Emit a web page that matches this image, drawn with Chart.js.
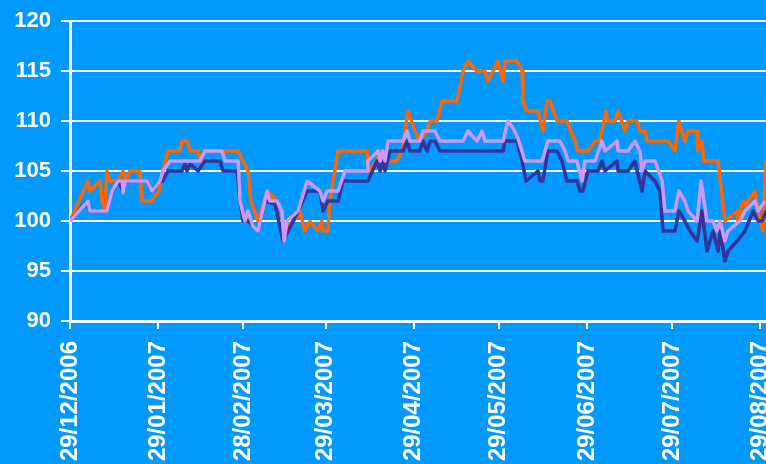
<!DOCTYPE html>
<html lang="en">

<head>
    <meta charset="UTF-8">
    <title>Index chart 29/12/2006 - 29/08/2007</title>
    <script src="https://cdn.jsdelivr.net/npm/chart.js"></script>
    <style>
        * {
            margin: 0;
            padding: 0;
            box-sizing: border-box;
        }

        body {
            background: #0099ff;
            width: 766px;
            height: 464px;
            overflow: hidden;
        }

        canvas {
            position: absolute;
            left: 0;
            top: 0;
        }
    </style>
</head>

<body>

    <canvas id="indexChart" width="800" height="464"></canvas>

    <script>
        // x positions are days counted from 29/12/2006
        const tickDays = [0, 31, 61, 90, 121, 151, 182, 212, 243];
        const tickLabels = ['29/12/2006', '29/01/2007', '28/02/2007', '29/03/2007', '29/04/2007',
            '29/05/2007', '29/06/2007', '29/07/2007', '29/08/2007'];

        const orangeDays = [0, 6.3, 7, 10.6, 11.3, 12.3, 13, 14.1, 16.9, 18.7, 19.7, 21.1, 24.6, 25.4, 28.9, 31.3,
            32.7, 34.5, 38.7, 39.4, 41.2, 42.3, 45.1, 46.1, 47.2, 59.2, 60.9, 62.7, 63.7, 66.2, 69.4, 72.9, 74.6,
            75.4, 76.8, 80.3, 81, 82.7, 84.5, 87.3, 88.7, 89.1, 90.8, 91.5, 94.4, 104.6, 104.9, 108.1, 109.2, 110.2,
            112, 115.1, 116.9, 119, 121.5, 123.2, 125.7, 126.8, 129.2, 131, 136.3, 138.4, 140.1, 143.3, 146.1, 147.2,
            150.7, 152.5, 153.2, 157.4, 159.2, 159.5, 160.9, 164.8, 166.5, 168, 169, 171.5, 175, 177.8, 178.9, 182.4,
            184.9, 186.6, 188.7, 189.4, 191.9, 193, 195.4, 196.5, 199.6, 200.7, 202.5, 203.2, 210.6, 213, 214.4,
            216.5, 217.6, 220.8, 221.1, 222.5, 223.2, 228.2, 230.6, 234.9, 235.2, 237, 237.7, 241.2, 242.3, 244,
            245.1];
        const orangeVals = [100, 104, 103, 104, 102, 101, 105, 104, 104, 105, 104, 105, 105, 102, 102, 103,
            105, 107, 107, 108, 108, 107, 107, 106, 107, 107, 106, 105, 102, 100, 103, 102, 101,
            98.5, 99.5, 100.5, 101, 99, 100, 99, 100, 99, 99, 102, 107, 107, 105, 106, 107, 106,
            106, 106, 107, 111, 109, 108, 109, 110, 110, 112, 112, 115, 116, 115, 115, 114,
            116, 114, 116, 116, 115, 112, 111, 111, 109, 112, 112, 110, 110, 108, 107, 107,
            108, 108, 111, 110, 110, 111, 109, 110, 110, 109, 109, 108, 108, 107, 110,
            108, 109, 109, 107, 108, 106, 106, 100, 101, 100, 102, 101.5, 103, 101, 99,
            106];

        const navyDays = [0, 6, 7, 13, 14.8, 16.9, 18.7, 19.4, 27.1, 28.9, 31.7, 32.7, 34.5, 39.4, 40.5, 41.2, 42.3,
            45.1, 47.5, 52.8, 53.9, 58.8, 59.9, 60.9, 62.7, 66.2, 68.7, 72.2, 75, 76.8, 79.9, 83.5, 88, 89.1, 90.8,
            94.4, 96.1, 104.9, 108.1, 109.2, 110.2, 110.9, 112.7, 117.3, 118.7, 119.7, 123.2, 124.3, 125.7, 126.8,
            128.5, 130.3, 152.5, 153.2, 157.4, 159.2, 160.6, 164.8, 165.5, 166.5, 168.3, 171.5, 173.2, 175, 178.5,
            179.6, 180.6, 182.4, 185.9, 187.3, 188.4, 192.6, 193, 196.5, 198.9, 201.4, 202.5, 206, 207.7, 208.8,
            213, 214.4, 216.5, 218.3, 220.8, 222.5, 224.3, 226.4, 228.2, 228.9, 230.6, 231.7, 234.9, 237.7, 240.5,
            242.3, 243.7, 245.1];
        const navyVals = [100, 102, 101, 101, 103, 104, 103, 104, 104, 103, 104, 104, 105, 105, 105.7, 105, 105.7,
            105, 106, 106, 105, 105, 102, 100, 100, 99, 102, 101.7, 98, 99, 100.7, 103, 103, 101, 102,
            102, 104, 104, 106, 105, 106, 105, 107, 107, 108, 107, 107, 108, 107, 108,
            108, 107, 107, 108, 108, 106, 104, 105, 104, 104, 107, 107, 106, 104, 104,
            103, 103, 105, 105, 106, 105, 106, 105, 105, 106, 103, 105, 104, 103, 99,
            99, 101, 100, 99, 98, 101, 97, 99, 97, 99, 96, 97, 98, 99, 101,
            100, 100, 101];

        const lilacDays = [0, 6.3, 7, 13, 14.8, 16.9, 18.4, 18.7, 19.4, 27.1, 28.9, 31.7, 32.7, 35.2, 45.8, 47.5,
            53.5, 54.6, 59.2, 59.9, 61.6, 62.7, 64.4, 66.2, 69.4, 70.4, 72.9, 74.6, 75.4, 76.4, 80.3, 83.5, 88,
            89.1, 90.5, 94.4, 96.8, 104.6, 104.9, 108.5, 109.2, 110.2, 110.9, 112, 117.3, 118.7, 119.7, 123.2,
            124.3, 128.5, 130.3, 138.4, 140.1, 143.3, 145.1, 146.1, 152.5, 154.2, 156, 157.7, 160.2, 166.2, 168.3,
            172.5, 174.3, 175.4, 178.5, 180.3, 181.3, 184.9, 187.3, 188.4, 192.6, 193, 196.5, 198.9, 200.7, 201.4,
            202.5, 206, 208.5, 209.5, 213, 214.4, 216.5, 217.6, 220.8, 222.2, 224.3, 226.4, 227.8, 228.9, 230.6,
            231.7, 235.9, 237.7, 241.2, 242.3, 244.7];
        const lilacVals = [100, 102, 101, 101, 103, 104, 104, 102.8, 104, 104, 103, 104, 105, 106, 106, 107,
            107, 106, 106, 102, 100, 101, 99.5, 99, 103, 102, 102, 101, 98, 100, 101, 104, 103,
            102, 103, 103, 105, 105, 106, 107, 106, 107, 106, 108, 108, 109, 108, 108,
            109, 109, 108, 108, 109, 108, 109, 108, 108, 110, 109.3, 108.3, 106, 106, 108,
            108, 107, 106, 106, 104, 106, 106, 108, 107, 108, 107, 107, 108, 107, 105,
            106, 106, 104, 101, 101, 103, 102, 101, 100, 104, 100, 100, 99, 100, 98,
            99, 100, 101, 102, 101, 102];

        const yTicks = [90, 95, 100, 105, 110, 115, 120];

        function toPoints(days, vals) {
            return days.map((d, i) => ({ x: d, y: vals[i] }));
        }

        const labelFont = { family: "'Liberation Sans', Arial, sans-serif", weight: 'bold', lineHeight: 1 };

        const ctx = document.getElementById('indexChart').getContext('2d');
        const indexChart = new Chart(ctx, {
            type: 'line',
            data: {
                datasets: [
                    { label: 'Lilac', data: toPoints(lilacDays, lilacVals), borderColor: '#cc99ff', order: 1 },
                    { label: 'Navy', data: toPoints(navyDays, navyVals), borderColor: '#333399', order: 2 },
                    { label: 'Orange', data: toPoints(orangeDays, orangeVals), borderColor: '#ff6600', order: 3 }
                ]
            },
            options: {
                responsive: false,
                animation: false,
                events: [],
                layout: { padding: { top: 16, right: 20, left: 0, bottom: 0 } },
                elements: {
                    point: { radius: 0 },
                    line: { borderWidth: 3.5, tension: 0, borderJoinStyle: 'round' }
                },
                plugins: {
                    legend: { display: false },
                    tooltip: { enabled: false }
                },
                scales: {
                    x: {
                        type: 'linear',
                        min: 0,
                        max: 250,
                        afterBuildTicks: (scale) => {
                            scale.ticks = tickDays.map(v => ({ value: v }));
                        },
                        afterFit: (scale) => {
                            scale.height = 143;
                        },
                        grid: {
                            drawOnChartArea: false,
                            drawTicks: true,
                            tickLength: 8,
                            color: '#ffffff',
                            lineWidth: 2
                        },
                        border: { color: '#ffffff', width: 3 },
                        ticks: {
                            autoSkip: false,
                            minRotation: 90,
                            maxRotation: 90,
                            padding: 12,
                            color: '#ffffff',
                            font: { ...labelFont, size: 24 },
                            callback: (value, index) => tickLabels[index]
                        }
                    },
                    y: {
                        min: 90,
                        max: 120,
                        afterBuildTicks: (scale) => {
                            scale.ticks = yTicks.map(v => ({ value: v }));
                        },
                        afterFit: (scale) => {
                            scale.width = 70;
                        },
                        grid: {
                            color: '#ffffff',
                            lineWidth: 2,
                            tickLength: 9
                        },
                        border: { color: '#ffffff', width: 3 },
                        ticks: {
                            padding: 10,
                            color: '#ffffff',
                            font: { ...labelFont, size: 22 }
                        }
                    }
                }
            }
        });
    </script>

</body>

</html>
